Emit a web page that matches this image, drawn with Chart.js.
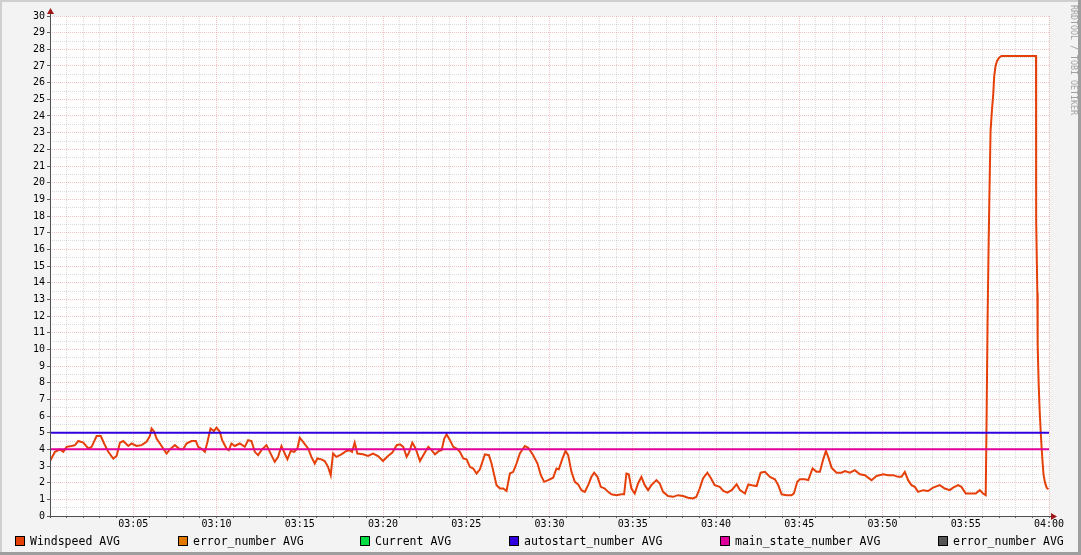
<!DOCTYPE html>
<html>
<head>
<meta charset="utf-8">
<script src="https://cdn.jsdelivr.net/npm/chart.js@4.4.1/dist/chart.umd.min.js"></script>
<style>
  html, body { margin: 0; padding: 0; background: #f3f3f3; }
  canvas { display: block; }
</style>
</head>
<body>
<canvas id="rrd-graph" width="1081" height="555"></canvas>
<script>
// time is minutes after 03:00
const windTimes = [
  0, 0.3, 0.6, 0.8, 1.0, 1.3, 1.5, 1.7, 2.0, 2.3, 2.5, 2.8, 3.05, 3.25, 3.5, 3.8,
  4.0, 4.2, 4.4, 4.7, 4.9, 5.2, 5.5, 5.8, 6.0, 6.1, 6.26, 6.4, 6.6, 6.8, 7.0, 7.2,
  7.5, 7.8, 8.0, 8.2, 8.5, 8.76, 8.9, 9.14, 9.3, 9.46, 9.64, 9.84, 10.0, 10.2, 10.34, 10.6,
  10.74, 10.9, 11.1, 11.4, 11.7, 11.9, 12.1, 12.3, 12.5, 12.7, 13.0, 13.2, 13.5, 13.7, 13.9, 14.1,
  14.26, 14.46, 14.66, 14.86, 15.0, 15.2, 15.5, 15.7, 15.9, 16.06, 16.3, 16.5, 16.7, 16.86, 17.0, 17.2,
  17.5, 17.8, 18.0, 18.14, 18.3, 18.46, 18.8, 19.1, 19.4, 19.7, 20.0, 20.3, 20.56, 20.82, 21.02, 21.22,
  21.42, 21.56, 21.76, 21.96, 22.22, 22.48, 22.72, 22.92, 23.12, 23.36, 23.52, 23.68, 23.82, 24.02, 24.22, 24.42,
  24.62, 24.82, 25.02, 25.22, 25.42, 25.62, 25.82, 26.12, 26.36, 26.52, 26.82, 27.02, 27.22, 27.42, 27.62, 27.82,
  28.02, 28.22, 28.52, 28.72, 29.02, 29.28, 29.48, 29.68, 29.92, 30.22, 30.42, 30.56, 30.76, 30.96, 31.12, 31.32,
  31.52, 31.72, 31.92, 32.12, 32.32, 32.52, 32.68, 32.88, 33.08, 33.32, 33.52, 33.72, 34.02, 34.32, 34.48, 34.62,
  34.76, 34.92, 35.12, 35.32, 35.52, 35.72, 35.92, 36.12, 36.42, 36.62, 36.82, 37.12, 37.42, 37.72, 38.02, 38.32,
  38.62, 38.82, 39.02, 39.22, 39.48, 39.68, 39.92, 40.22, 40.44, 40.68, 40.94, 41.24, 41.44, 41.74, 41.94, 42.14,
  42.44, 42.68, 42.94, 43.24, 43.54, 43.74, 43.94, 44.24, 44.54, 44.68, 44.88, 45.04, 45.34, 45.54, 45.8, 46.04,
  46.24, 46.44, 46.6, 46.74, 46.94, 47.24, 47.54, 47.74, 48.04, 48.34, 48.64, 48.94, 49.34, 49.64, 50.04, 50.34,
  50.64, 50.94, 51.14, 51.34, 51.54, 51.74, 51.94, 52.14, 52.44, 52.74, 53.04, 53.44, 53.74, 54.04, 54.24, 54.54,
  54.74, 55.0, 55.34, 55.6, 55.84, 56.04, 56.2, 56.25, 56.31, 56.37, 56.42, 56.49, 56.57, 56.65, 56.71, 56.79,
  56.88, 57.0, 57.15, 59.22, 59.23, 59.3, 59.32, 59.38, 59.44, 59.5, 59.55, 59.61, 59.67, 59.76, 59.86, 59.97
];
const windValues = [
  3.3, 3.85, 4.0, 3.85, 4.15, 4.2, 4.25, 4.5, 4.4, 4.05, 4.15, 4.8, 4.8, 4.35, 3.85, 3.45,
  3.6, 4.4, 4.5, 4.2, 4.35, 4.2, 4.25, 4.45, 4.8, 5.25, 5.05, 4.65, 4.35, 4.05, 3.75, 4.0,
  4.25, 4.0, 4.0, 4.35, 4.5, 4.5, 4.15, 4.0, 3.85, 4.45, 5.25, 5.1, 5.3, 5.05, 4.55, 4.05,
  3.95, 4.35, 4.2, 4.35, 4.15, 4.55, 4.5, 3.85, 3.65, 3.95, 4.25, 3.85, 3.25, 3.55, 4.2, 3.75,
  3.4, 3.9, 3.85, 4.05, 4.7, 4.45, 4.05, 3.55, 3.15, 3.45, 3.4, 3.3, 2.95, 2.45, 3.75, 3.55,
  3.7, 3.9, 3.95, 3.85, 4.4, 3.75, 3.7, 3.6, 3.75, 3.6, 3.3, 3.6, 3.8, 4.25, 4.3, 4.15,
  3.55, 3.8, 4.4, 4.05, 3.3, 3.75, 4.15, 3.95, 3.7, 3.9, 3.95, 4.65, 4.9, 4.55, 4.15, 4.05,
  3.85, 3.45, 3.4, 2.95, 2.85, 2.55, 2.8, 3.7, 3.65, 3.15, 1.85, 1.65, 1.65, 1.5, 2.55, 2.65,
  3.15, 3.75, 4.2, 4.1, 3.65, 3.15, 2.45, 2.05, 2.15, 2.3, 2.85, 2.8, 3.4, 3.9, 3.65, 2.65,
  2.05, 1.9, 1.55, 1.45, 1.85, 2.35, 2.6, 2.35, 1.75, 1.65, 1.45, 1.3, 1.25, 1.3, 1.3, 2.55,
  2.5, 1.65, 1.35, 1.95, 2.35, 1.85, 1.55, 1.85, 2.15, 1.95, 1.45, 1.2, 1.15, 1.25, 1.2, 1.1,
  1.05, 1.15, 1.65, 2.25, 2.6, 2.3, 1.85, 1.75, 1.5, 1.4, 1.55, 1.9, 1.55, 1.35, 1.9, 1.85,
  1.8, 2.6, 2.65, 2.35, 2.2, 1.85, 1.3, 1.25, 1.25, 1.35, 2.05, 2.2, 2.2, 2.15, 2.85, 2.65,
  2.65, 3.4, 3.9, 3.55, 2.9, 2.6, 2.6, 2.7, 2.6, 2.75, 2.5, 2.45, 2.15, 2.4, 2.5, 2.45,
  2.45, 2.35, 2.35, 2.65, 2.15, 1.85, 1.75, 1.45, 1.55, 1.5, 1.7, 1.85, 1.65, 1.55, 1.7, 1.85,
  1.75, 1.35, 1.35, 1.35, 1.55, 1.35, 1.25, 5.7, 11.7, 16.0, 19.2, 23.1, 24.3, 25.3, 26.4, 27.0,
  27.3, 27.5, 27.6, 27.6, 17.7, 13.4, 10.2, 7.9, 6.3, 5.1, 4.2, 3.3, 2.5, 2.0, 1.7, 1.6
];
const stateTimes = [0, 60];
const autostartValues = [5, 5];
const mainStateValues = [4, 4];

const seriesLabels = ['Windspeed AVG', 'error_number AVG', 'Current AVG',
  'autostart_number AVG', 'main_state_number AVG', 'error_number AVG'];
const seriesColors = ['#e5400a', '#e07800', '#00dd44', '#3000dd', '#e0009a', '#555555'];
const legendLeft = [15, 178, 360, 509, 720, 938];

const tickMinutes = [5, 10, 15, 20, 25, 30, 35, 40, 45, 50, 55, 60];
const tickLabels = ['03:05', '03:10', '03:15', '03:20', '03:25', '03:30',
  '03:35', '03:40', '03:45', '03:50', '03:55', '04:00'];

const MONO = "'DejaVu Sans Mono', monospace";
const MAJOR = 'rgba(225, 70, 70, 0.32)';
const MINOR = 'rgba(140, 140, 140, 0.32)';

function pts(xs, ys) {
  return xs.map((x, i) => ({ x: x, y: ys[i] }));
}

const rrdLook = {
  id: 'rrdLook',
  beforeDraw(chart) {
    const ctx = chart.ctx, a = chart.chartArea;
    ctx.save();
    ctx.fillStyle = '#f3f3f3';
    ctx.fillRect(0, 0, chart.width, chart.height);
    ctx.fillStyle = '#ffffff';
    ctx.fillRect(a.left, a.top, a.right - a.left, a.bottom - a.top);
    ctx.restore();
  },
  afterDatasetsDraw(chart) {
    const ctx = chart.ctx, a = chart.chartArea;
    ctx.save();
    // axes
    ctx.strokeStyle = '#505050';
    ctx.lineWidth = 1;
    ctx.beginPath();
    ctx.moveTo(a.left + 0.5, a.bottom + 2);
    ctx.lineTo(a.left + 0.5, a.top - 3);
    ctx.moveTo(a.left - 3, a.bottom + 0.5);
    ctx.lineTo(a.right + 3, a.bottom + 0.5);
    ctx.stroke();
    // arrows
    ctx.fillStyle = '#a01818';
    ctx.beginPath();
    ctx.moveTo(a.left + 0.5, a.top - 8);
    ctx.lineTo(a.left - 3, a.top - 2);
    ctx.lineTo(a.left + 4, a.top - 2);
    ctx.closePath();
    ctx.fill();
    ctx.beginPath();
    ctx.moveTo(a.right + 8, a.bottom + 0.5);
    ctx.lineTo(a.right + 2, a.bottom - 3);
    ctx.lineTo(a.right + 2, a.bottom + 4);
    ctx.closePath();
    ctx.fill();
    ctx.restore();
  },
  afterDraw(chart) {
    const ctx = chart.ctx, w = chart.width, h = chart.height;
    ctx.save();
    // legend
    ctx.font = '11.5px ' + MONO;
    ctx.textBaseline = 'alphabetic';
    seriesLabels.forEach((lab, i) => {
      const x = legendLeft[i];
      ctx.fillStyle = seriesColors[i];
      ctx.fillRect(x, 536, 10, 10);
      ctx.strokeStyle = '#000';
      ctx.lineWidth = 1;
      ctx.strokeRect(x + 0.5, 536.5, 9, 9);
      ctx.fillStyle = '#000';
      ctx.fillText(lab, x + 15, 545);
    });
    // watermark
    ctx.translate(1073, 5);
    ctx.rotate(Math.PI / 2);
    ctx.font = '8.3px ' + MONO;
    ctx.fillStyle = '#a0a0a0';
    ctx.textBaseline = 'middle';
    ctx.fillText('RRDTOOL / TOBI OETIKER', 0, 0);
    ctx.setTransform(1, 0, 0, 1, 0, 0);
    // frame
    ctx.fillStyle = '#cfcfcf';
    ctx.fillRect(0, 0, w, 2);
    ctx.fillRect(0, 0, 2, h);
    ctx.fillStyle = '#9e9e9e';
    ctx.fillRect(0, h - 3, w, 3);
    ctx.fillRect(w - 3, 0, 3, h);
    ctx.restore();
  }
};

new Chart(document.getElementById('rrd-graph'), {
  type: 'line',
  data: {
    datasets: [
      { label: seriesLabels[0], data: pts(windTimes, windValues), borderColor: seriesColors[0], order: 2 },
      { label: seriesLabels[1], data: [], borderColor: seriesColors[1], order: 1 },
      { label: seriesLabels[2], data: [], borderColor: seriesColors[2], order: 1 },
      { label: seriesLabels[3], data: pts(stateTimes, autostartValues), borderColor: seriesColors[3], order: 1 },
      { label: seriesLabels[4], data: pts(stateTimes, mainStateValues), borderColor: seriesColors[4], order: 1 },
      { label: seriesLabels[5], data: [], borderColor: seriesColors[5], order: 1 }
    ]
  },
  options: {
    responsive: false,
    animation: false,
    devicePixelRatio: 1,
    layout: { padding: { top: 16, right: 32, left: 0, bottom: 0 } },
    elements: {
      line: { borderWidth: 2, tension: 0, fill: false },
      point: { radius: 0, hitRadius: 0 }
    },
    plugins: {
      legend: { display: false },
      tooltip: { enabled: false }
    },
    scales: {
      x: {
        type: 'linear',
        min: 0,
        max: 60,
        afterFit: (s) => { s.height = 39; },
        border: { display: false, dash: [1, 1] },
        grid: {
          color: (c) => (c.tick && c.tick.value % 5 === 0 ? MAJOR : MINOR),
          tickColor: '#606060',
          tickLength: 2
        },
        ticks: {
          stepSize: 1,
          autoSkip: false,
          maxRotation: 0,
          padding: 0,
          color: '#000',
          font: { family: MONO, size: 10 },
          callback: (v) => {
            const i = tickMinutes.indexOf(v);
            return i >= 0 ? tickLabels[i] : '';
          }
        }
      },
      y: {
        min: 0,
        max: 30,
        afterFit: (s) => { s.width = 50; },
        border: { display: false, dash: [1, 1] },
        grid: {
          color: (c) => (c.tick && Number.isInteger(c.tick.value) ? MAJOR : MINOR),
          tickColor: (c) => (c.tick && Number.isInteger(c.tick.value) ? '#606060' : 'rgba(0,0,0,0)'),
          tickLength: 3
        },
        ticks: {
          stepSize: 0.5,
          autoSkip: false,
          padding: 2,
          color: '#000',
          font: { family: MONO, size: 10 },
          callback: (v) => (Number.isInteger(v) ? String(v) : '')
        }
      }
    }
  },
  plugins: [rrdLook]
});
</script>
</body>
</html>
